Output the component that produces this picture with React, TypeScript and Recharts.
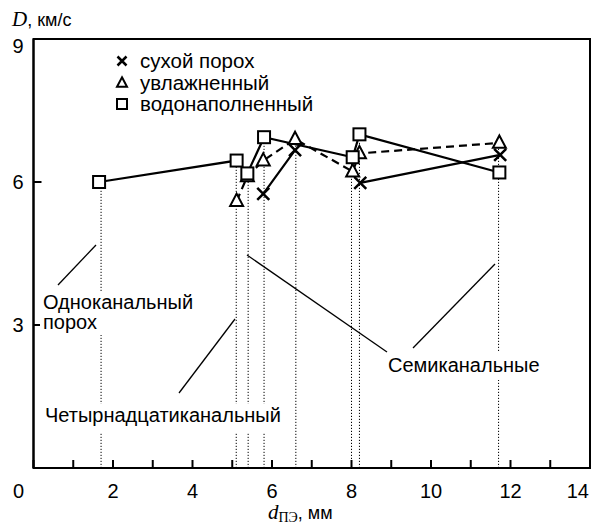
import { LineChart, Line, XAxis, YAxis, ReferenceLine, ReferenceArea } from "recharts";

// D (km/s) vs channel diameter d (mm), three charge states
const X_TICKS = [0, 1, 2, 3, 4, 5, 6, 7, 8, 9, 10, 11, 12, 13, 14];
const Y_TICKS = [0, 3, 6, 9];

const WATER_X = [1.65, 5.11, 5.38, 5.8, 8.03, 8.2, 11.72];
const WATER_Y = [6.0, 6.45, 6.18, 6.94, 6.52, 7.0, 6.2];

const WET_X = [5.11, 5.38, 5.78, 6.58, 8.03, 8.2, 11.72];
const WET_Y = [5.6, 6.12, 6.45, 6.9, 6.22, 6.6, 6.82];

const DRY_X = [5.78, 6.58, 8.22, 11.74];
const DRY_Y = [5.75, 6.67, 5.98, 6.57];
const DRY_GAP_AFTER = 1; // no line between 6.6 and 8.2 mm

const SERIES_NAMES = ["сухой порох", "увлажненный", "водонаполненный"];

const FONT = "'Liberation Sans', Arial, sans-serif";
const SERIF = "'Liberation Serif', 'DejaVu Serif', serif";

const W = 597;
const H = 524;

const toRows = (xs: number[], ys: number[]) => xs.map((x, i) => ({ x, y: ys[i] }));

const waterData = toRows(WATER_X, WATER_Y);
const wetData = toRows(WET_X, WET_Y);
const dryData: { x: number; y: number | null }[] = [];
DRY_X.forEach((x, i) => {
  dryData.push({ x, y: DRY_Y[i] });
  if (i === DRY_GAP_AFTER) dryData.push({ x: (x + DRY_X[i + 1]) / 2, y: null });
});

// dotted drop lines: one per distinct diameter, from highest marker down to axis
const dropLines = (() => {
  const all = [...waterData, ...wetData, ...toRows(DRY_X, DRY_Y)];
  const map = new Map<number, number>();
  for (const p of all) {
    const k = Math.round(p.x * 10) / 10;
    map.set(k, Math.max(map.get(k) ?? 0, p.y));
  }
  return [...map.entries()].map(([x, top]) => ({ x, top }));
})();

function SquareMark({ cx, cy, s = 12 }: { cx: number; cy: number; s?: number }) {
  return <rect x={cx - s / 2} y={cy - s / 2} width={s} height={s} fill="#fff" stroke="#000" strokeWidth={2} />;
}
function TriMark({ cx, cy, s = 13 }: { cx: number; cy: number; s?: number }) {
  const h = s * 0.95;
  return (
    <path
      d={`M${cx},${cy - h * 0.6} L${cx + s / 2},${cy + h * 0.4} L${cx - s / 2},${cy + h * 0.4} Z`}
      fill="#fff"
      stroke="#000"
      strokeWidth={2}
    />
  );
}
function CrossMark({ cx, cy, s = 12 }: { cx: number; cy: number; s?: number }) {
  const r = s / 2;
  return (
    <path d={`M${cx - r},${cy - r} L${cx + r},${cy + r} M${cx - r},${cy + r} L${cx + r},${cy - r}`} stroke="#000" strokeWidth={2.5} />
  );
}

const dotFn = (Mark: typeof SquareMark) => (p: any) => {
  if (p.cy == null || p.value == null || isNaN(p.cy)) return <g key={`n-${p.index}`} />;
  return (
    <g key={`d-${p.index}`}>
      <Mark cx={p.cx} cy={p.cy} />
    </g>
  );
};

const XTick = ({ x, y, payload }: any) => {
  const v = payload.value;
  const tx = v === 0 ? x - 15 : v === 14 ? x - 1 : x;
  return (
    <g>
      <line x1={x} x2={x} y1={y} y2={y - 8} stroke="#000" strokeWidth={2} />
      {v % 2 === 0 && (
        <text x={tx} y={y + 30} textAnchor={v === 14 ? "end" : "middle"} fontFamily={FONT} fontSize={20} fill="#000">
          {v}
        </text>
      )}
    </g>
  );
};

const YTick = ({ x, y, payload }: any) => {
  const v = payload.value;
  if (v === 0) return <g />;
  return (
    <g>
      <line x1={x} x2={x + 8} y1={y} y2={y} stroke="#000" strokeWidth={2} />
      <text x={18} y={v === 9 ? y + 14 : y + 7} textAnchor="middle" fontFamily={FONT} fontSize={20} fill="#000">
        {v}
      </text>
    </g>
  );
};

const LegendBox = () => {
  const marks = [CrossMark, TriMark, SquareMark];
  return (
    <div style={{ position: "absolute", left: 112, top: 50, fontFamily: FONT, fontSize: 20.5, lineHeight: "21.5px" }}>
      {SERIES_NAMES.map((name, i) => {
        const M = marks[i];
        return (
          <div key={name} style={{ display: "flex", alignItems: "center", whiteSpace: "nowrap" }}>
            <svg width={20} height={21} style={{ marginRight: 8 }}>
              <M cx={10} cy={11} s={i === 0 ? 9 : 10} />
            </svg>
            <span>{name}</span>
          </div>
        );
      })}
    </div>
  );
};

export default function App() {
  return (
    <div style={{ position: "absolute", left: 0, top: 0, width: W, height: H, background: "#fff" }}>
      <LineChart width={W} height={H} margin={{ top: 39, right: 7, bottom: 55, left: 32.5 }}>
        <XAxis
          type="number"
          dataKey="x"
          domain={[0, 14]}
          ticks={X_TICKS}
          interval={0}
          height={1}
          tickSize={0}
          tickMargin={0}
          tickLine={false}
          axisLine={{ stroke: "#000", strokeWidth: 2 }}
          tick={<XTick />}
          allowDataOverflow
        />
        <YAxis
          type="number"
          domain={[0, 9]}
          ticks={Y_TICKS}
          interval={0}
          width={1}
          tickSize={0}
          tickMargin={0}
          tickLine={false}
          axisLine={{ stroke: "#000", strokeWidth: 2 }}
          tick={<YTick />}
          allowDataOverflow
        />
        <ReferenceArea x1={0} x2={14} y1={0} y2={9} fill="none" stroke="#000" strokeWidth={2} ifOverflow="visible" />
        {dropLines.map((d) => (
          <ReferenceLine
            key={d.x}
            segment={[
              { x: d.x, y: 0 },
              { x: d.x, y: d.top },
            ]}
            stroke="#000"
            strokeWidth={1}
            strokeDasharray="1.2 1.8"
          />
        ))}
        <Line
          data={dryData}
          dataKey="y"
          stroke="#000"
          strokeWidth={2.2}
          dot={dotFn(CrossMark)}
          connectNulls={false}
          isAnimationActive={false}
        />
        <Line
          data={wetData}
          dataKey="y"
          stroke="#000"
          strokeWidth={2.2}
          strokeDasharray="8 5"
          dot={dotFn(TriMark)}
          isAnimationActive={false}
        />
        <Line
          data={waterData}
          dataKey="y"
          stroke="#000"
          strokeWidth={2.2}
          dot={dotFn(SquareMark)}
          isAnimationActive={false}
        />
      </LineChart>

      <LegendBox />

      {/* annotations and axis titles */}
      <svg width={W} height={H} style={{ position: "absolute", left: 0, top: 0, pointerEvents: "none" }}>
        <g fontFamily={FONT} fontSize={20} fill="#000">
          <rect x={40} y={292} width={158} height={43} fill="#fff" />
          <text x={43} y={309}>Одноканальный</text>
          <text x={43} y={329}>порох</text>
          <rect x={42} y={404} width={246} height={28} fill="#fff" />
          <text x={45} y={422}>Четырнадцатиканальный</text>
          <rect x={385} y={352} width={160} height={28} fill="#fff" />
          <text x={388} y={372}>Семиканальные</text>
        </g>
        <g stroke="#000" strokeWidth={1.3}>
          <line x1={58} y1={285} x2={96} y2={245} />
          <line x1={179} y1={393} x2={235} y2={319} />
          <line x1={247} y1={255} x2={387} y2={352} />
          <line x1={413} y1={348} x2={495} y2={264} />
        </g>
        <text x={12} y={26} fontFamily={FONT} fontSize={18} fill="#000">
          <tspan fontFamily={SERIF} fontStyle="italic" fontSize={21}>D</tspan>
          <tspan>, км/с</tspan>
        </text>
        <text x={268} y={519} fontFamily={FONT} fontSize={18} fill="#000">
          <tspan fontFamily={SERIF} fontStyle="italic" fontSize={21}>d</tspan>
          <tspan fontFamily={SERIF} fontSize={14} dy={3}>ПЭ</tspan>
          <tspan dy={-3}>, мм</tspan>
        </text>
      </svg>
    </div>
  );
}
